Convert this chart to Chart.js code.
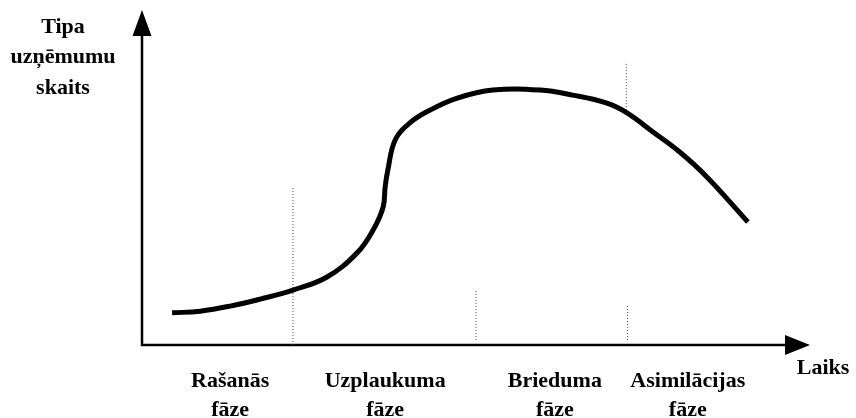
<!DOCTYPE html>
<html>
<head>
<meta charset="utf-8">
<script src="https://cdn.jsdelivr.net/npm/chart.js@4"></script>
<style>
  html, body { margin: 0; padding: 0; background: #fff; }
  #wrap { width: 856px; height: 418px; }
</style>
</head>
<body>
<div id="wrap"><canvas id="lifecycle" width="856" height="418"></canvas></div>
<script>
// Life-cycle curve (arbitrary 0..100 units).
const timeX = [4.5, 8.7, 13.2, 17.7, 22.6, 27.7, 32.2, 34.6, 36.1, 36.4, 36.8, 37.9, 40.1, 43.1, 47.2, 52.5, 59.6, 64.5, 69.6, 72.6, 76.5, 80.5, 84.6, 90.7];
const companies = [9.6, 10.1, 11.6, 13.7, 16.4, 20.3, 27.5, 34.3, 41.2, 47.2, 52.2, 61.2, 66.3, 70.1, 73.7, 76.1, 76.1, 74.6, 72.2, 69.3, 63.6, 57.6, 50.1, 36.7];

// dotted phase boundaries (x, from y, to y)
const guideX = [22.6, 50.0, 72.7, 72.5];
const guideFrom = [0, 1.5, 1.5, 70.1];
const guideTo = [47.5, 16.7, 11.9, 84.5];

const phaseCenters = [13.2, 36.4, 61.8, 81.7];
const phaseNames = [['Rašanās', 'fāze'], ['Uzplaukuma', 'fāze'], ['Brieduma', 'fāze'], ['Asimilācijas', 'fāze']];

const yTitle = ['Tipa', 'uzņēmumu', 'skaits'];
const xTitle = 'Laiks';

const FONT = "'Liberation Serif', 'DejaVu Serif', serif";

const datasets = [{
  data: timeX.map((x, i) => ({ x, y: companies[i] })),
  borderColor: '#000',
  borderWidth: 5,
  pointRadius: 0,
  tension: 0.4,
  borderCapStyle: 'butt',
}];
guideX.forEach((x, i) => {
  datasets.push({
    data: [{ x, y: guideFrom[i] }, { x, y: guideTo[i] }],
    borderColor: '#444',
    borderWidth: 1,
    borderDash: [1, 2],
    pointRadius: 0,
  });
});

// axes with arrowheads + the free-standing titles
const arrowAxes = {
  id: 'arrowAxes',
  beforeDatasetsDraw(chart) {
    const { ctx, chartArea: a } = chart;
    ctx.save();
    ctx.strokeStyle = '#000';
    ctx.fillStyle = '#000';
    ctx.lineWidth = 2.5;
    ctx.beginPath();
    ctx.moveTo(a.left, a.top + 20);
    ctx.lineTo(a.left, a.bottom);
    ctx.lineTo(a.right - 20, a.bottom);
    ctx.stroke();
    // y arrow
    ctx.beginPath();
    ctx.moveTo(a.left, a.top);
    ctx.lineTo(a.left - 9.5, a.top + 26);
    ctx.lineTo(a.left + 9.5, a.top + 26);
    ctx.closePath();
    ctx.fill();
    // x arrow
    ctx.beginPath();
    ctx.moveTo(a.right, a.bottom);
    ctx.lineTo(a.right - 25, a.bottom - 10);
    ctx.lineTo(a.right - 25, a.bottom + 10);
    ctx.closePath();
    ctx.fill();

    ctx.font = 'bold 22px ' + FONT;
    ctx.textAlign = 'center';
    ctx.textBaseline = 'middle';
    yTitle.forEach((t, i) => ctx.fillText(t, a.left - 79, a.top + 17 + i * 30.5));
    ctx.fillText(xTitle, a.right + 13, a.bottom + 23);
    ctx.restore();
  },
};

new Chart(document.getElementById('lifecycle'), {
  type: 'line',
  data: { datasets },
  plugins: [arrowAxes],
  options: {
    responsive: false,
    animation: false,
    layout: { padding: { left: 142, right: 46, top: 10, bottom: 0 } },
    plugins: { legend: { display: false }, tooltip: { enabled: false } },
    scales: {
      x: {
        type: 'linear',
        min: 0,
        max: 100,
        grid: { display: false },
        border: { display: false },
        afterBuildTicks(scale) {
          scale.ticks = phaseCenters.map((value) => ({ value }));
        },
        afterFit(scale) {
          scale.height = 73;
        },
        ticks: {
          autoSkip: false,
          maxRotation: 0,
          padding: 13,
          color: '#000',
          font: { family: FONT, size: 22, weight: 'bold', lineHeight: 1.35 },
          callback: (value, index) => phaseNames[index],
        },
      },
      y: { display: false, min: 0, max: 100 },
    },
  },
});
</script>
</body>
</html>
